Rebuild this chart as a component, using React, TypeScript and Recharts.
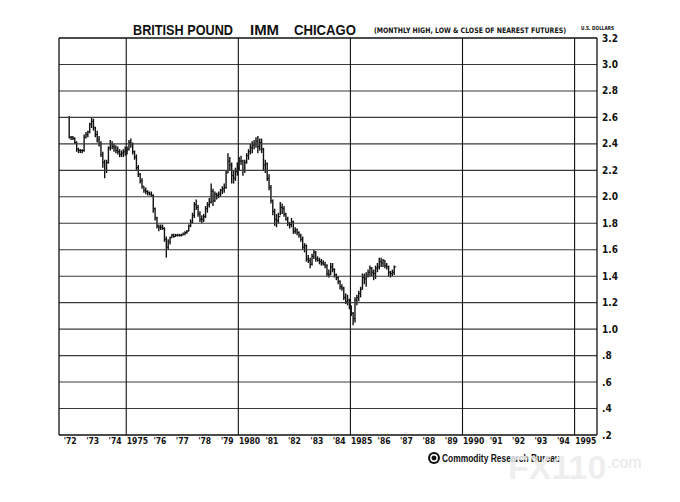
import { ComposedChart, Bar, XAxis, YAxis, ReferenceLine } from 'recharts';

// monthly bars start June 1972 (month index 5)
const FIRST_YEAR = 1972;
const FIRST_MONTH = 5;

const highs = [
  2.61, 2.46, 2.46, 2.45, 2.42, 2.37, 2.36, // 1972
  2.36, 2.47, 2.49, 2.50, 2.56, 2.60, 2.59, 2.53, 2.50, 2.46, 2.42, 2.34, // 1973
  2.28, 2.28, 2.38, 2.43, 2.42, 2.40, 2.39, 2.38, 2.36, 2.35, 2.36, 2.38, // 1974
  2.38, 2.43, 2.44, 2.41, 2.35, 2.32, 2.24, 2.18, 2.14, 2.08, 2.07, 2.05, // 1975
  2.04, 2.04, 2.02, 1.92, 1.85, 1.79, 1.79, 1.79, 1.77, 1.70, 1.68, 1.70, // 1976
  1.72, 1.72, 1.72, 1.72, 1.72, 1.72, 1.73, 1.74, 1.75, 1.79, 1.83, 1.88, // 1977
  1.96, 1.98, 1.94, 1.89, 1.86, 1.87, 1.93, 1.96, 1.99, 2.10, 2.06, 2.04, // 1978
  2.03, 2.04, 2.06, 2.08, 2.10, 2.20, 2.33, 2.30, 2.26, 2.20, 2.22, 2.26, // 1979
  2.30, 2.31, 2.28, 2.28, 2.33, 2.36, 2.40, 2.42, 2.43, 2.45, 2.46, 2.44, // 1980
  2.44, 2.37, 2.28, 2.26, 2.17, 2.09, 1.98, 1.91, 1.87, 1.88, 1.96, 1.95, // 1981
  1.93, 1.88, 1.85, 1.81, 1.84, 1.82, 1.77, 1.76, 1.74, 1.72, 1.70, 1.65, // 1982
  1.64, 1.56, 1.54, 1.57, 1.60, 1.59, 1.55, 1.54, 1.53, 1.52, 1.51, 1.49, // 1983
  1.45, 1.50, 1.50, 1.46, 1.42, 1.40, 1.37, 1.34, 1.32, 1.27, 1.26, 1.23, // 1984
  1.18, 1.13, 1.24, 1.26, 1.29, 1.32, 1.42, 1.42, 1.43, 1.45, 1.48, 1.47, // 1985
  1.45, 1.48, 1.50, 1.54, 1.54, 1.53, 1.52, 1.50, 1.48, 1.44, 1.45, 1.48, // 1986
];

const lows = [
  2.44, 2.43, 2.43, 2.40, 2.34, 2.33, 2.33, // 1972
  2.33, 2.34, 2.44, 2.45, 2.48, 2.52, 2.50, 2.45, 2.41, 2.38, 2.30, 2.22, // 1973
  2.14, 2.18, 2.25, 2.35, 2.36, 2.34, 2.33, 2.32, 2.30, 2.30, 2.30, 2.31, // 1974
  2.32, 2.35, 2.37, 2.32, 2.28, 2.20, 2.15, 2.10, 2.06, 2.03, 2.02, 2.01, // 1975
  2.01, 2.00, 1.88, 1.82, 1.76, 1.74, 1.75, 1.75, 1.66, 1.54, 1.60, 1.64, // 1976
  1.69, 1.69, 1.70, 1.70, 1.70, 1.70, 1.71, 1.71, 1.72, 1.74, 1.77, 1.80, // 1977
  1.84, 1.90, 1.85, 1.81, 1.80, 1.81, 1.84, 1.88, 1.92, 1.95, 1.93, 1.96, // 1978
  1.98, 1.99, 2.00, 2.02, 2.03, 2.06, 2.18, 2.20, 2.10, 2.10, 2.12, 2.16, // 1979
  2.20, 2.24, 2.16, 2.18, 2.25, 2.28, 2.32, 2.33, 2.36, 2.37, 2.33, 2.35, // 1980
  2.33, 2.20, 2.18, 2.12, 2.05, 1.95, 1.86, 1.78, 1.77, 1.80, 1.86, 1.87, // 1981
  1.85, 1.82, 1.78, 1.76, 1.77, 1.72, 1.72, 1.71, 1.69, 1.66, 1.60, 1.58, // 1982
  1.51, 1.50, 1.46, 1.48, 1.53, 1.51, 1.51, 1.49, 1.48, 1.48, 1.46, 1.40, // 1983
  1.39, 1.41, 1.43, 1.39, 1.37, 1.34, 1.30, 1.29, 1.22, 1.19, 1.18, 1.15, // 1984
  1.10, 1.03, 1.05, 1.18, 1.21, 1.24, 1.30, 1.34, 1.32, 1.39, 1.40, 1.40, // 1985
  1.37, 1.38, 1.43, 1.45, 1.47, 1.47, 1.46, 1.45, 1.40, 1.39, 1.40, 1.41, // 1986
];

const closes = [
  2.45, 2.45, 2.44, 2.41, 2.36, 2.35, 2.35, // 1972
  2.35, 2.45, 2.47, 2.49, 2.55, 2.57, 2.52, 2.47, 2.43, 2.40, 2.32, 2.26, // 1973
  2.20, 2.26, 2.37, 2.40, 2.38, 2.37, 2.35, 2.34, 2.32, 2.33, 2.34, 2.35, // 1974
  2.36, 2.41, 2.40, 2.34, 2.30, 2.22, 2.17, 2.12, 2.08, 2.05, 2.04, 2.03, // 1975
  2.02, 2.01, 1.91, 1.84, 1.78, 1.77, 1.77, 1.76, 1.68, 1.62, 1.66, 1.69, // 1976
  1.71, 1.70, 1.71, 1.71, 1.71, 1.71, 1.72, 1.73, 1.74, 1.78, 1.81, 1.86, // 1977
  1.94, 1.92, 1.87, 1.83, 1.83, 1.85, 1.91, 1.94, 1.96, 2.04, 1.97, 2.02, // 1978
  2.01, 2.02, 2.05, 2.06, 2.07, 2.18, 2.27, 2.24, 2.16, 2.14, 2.19, 2.21, // 1979
  2.27, 2.27, 2.20, 2.26, 2.31, 2.34, 2.37, 2.39, 2.40, 2.42, 2.38, 2.41, // 1980
  2.36, 2.24, 2.25, 2.14, 2.07, 1.97, 1.89, 1.83, 1.82, 1.85, 1.92, 1.91, // 1981
  1.87, 1.83, 1.80, 1.79, 1.81, 1.74, 1.75, 1.73, 1.71, 1.68, 1.62, 1.63, // 1982
  1.53, 1.52, 1.49, 1.55, 1.58, 1.53, 1.52, 1.51, 1.50, 1.49, 1.48, 1.42, // 1983
  1.41, 1.47, 1.45, 1.41, 1.39, 1.36, 1.32, 1.31, 1.24, 1.21, 1.22, 1.16, // 1984
  1.12, 1.08, 1.22, 1.24, 1.27, 1.30, 1.39, 1.38, 1.40, 1.43, 1.46, 1.43, // 1985
  1.42, 1.46, 1.47, 1.51, 1.50, 1.52, 1.48, 1.47, 1.43, 1.42, 1.43, 1.47, // 1986
];

const yearLabels = [
  "'72", "'73", "'74", '1975', "'76", "'77", "'78", "'79", '1980', "'81", "'82", "'83",
  "'84", '1985', "'86", "'87", "'88", "'89", '1990', "'91", "'92", "'93", "'94", '1995',
];
const yearTicks = [
  1972, 1973, 1974, 1975, 1976, 1977, 1978, 1979, 1980, 1981, 1982, 1983, 1984,
  1985, 1986, 1987, 1988, 1989, 1990, 1991, 1992, 1993, 1994, 1995, 1996,
];
const fiveYearLines = [1975, 1980, 1985, 1990, 1995];
const priceTicks = [0.2, 0.4, 0.6, 0.8, 1.0, 1.2, 1.4, 1.6, 1.8, 2.0, 2.2, 2.4, 2.6, 2.8, 3.0, 3.2];
const minorTicks = [0.3, 0.5, 0.7, 0.9, 1.1, 1.3, 1.5, 1.7, 1.9, 2.1, 2.3, 2.5, 2.7, 2.9, 3.1];

const data = highs.map((h, i) => ({
  t: FIRST_YEAR + (FIRST_MONTH + i + 0.5) / 12,
  range: [lows[i], h],
  close: closes[i],
}));

const labelTicks = yearLabels.map((_, i) => FIRST_YEAR + i + 0.5);

const condensed = "'Liberation Sans Narrow', 'DejaVu Sans Condensed', 'Liberation Sans', sans-serif";
const sans = "'Liberation Sans', Arial, sans-serif";

const HlcBar = (props: any) => {
  const { x, y, width, height, payload } = props;
  if (x == null || y == null) return null;
  const top = Math.min(y, y + height);
  const bottom = Math.max(y, y + height);
  const [lo, hi] = payload.range;
  const cx = x + width / 2;
  const cy = hi > lo ? top + ((bottom - top) * (hi - payload.close)) / (hi - lo) : top;
  return (
    <g>
      <line x1={cx} x2={cx} y1={top} y2={Math.max(bottom, top + 1)} stroke="#111" strokeWidth={1.4} />
      <line x1={cx} x2={cx + 2} y1={cy} y2={cy} stroke="#111" strokeWidth={1} />
    </g>
  );
};

const fmtPrice = (v: number) => (v < 1 ? v.toFixed(1).slice(1) : v.toFixed(1));

export default function App() {
  return (
    <div style={{ position: 'absolute', left: 0, top: 0, width: 680, height: 502, background: '#fff' }}>
      <ComposedChart
        width={680}
        height={502}
        data={data}
        margin={{ top: 38, right: 43, bottom: 51, left: 59 }}
      >
        <XAxis
          xAxisId="main"
          type="number"
          dataKey="t"
          domain={[1972, 1996]}
          ticks={labelTicks}
          interval={0}
          tickFormatter={(v: number) => yearLabels[Math.floor(v) - FIRST_YEAR]}
          tickLine={false}
          axisLine={false}
          tickSize={0}
          tickMargin={3}
          height={16}
          tick={{ fontSize: 8.5, fontWeight: 700, fill: '#111', fontFamily: condensed }}
          allowDataOverflow
        />
        <XAxis
          xAxisId="bt"
          type="number"
          dataKey="t"
          domain={[1972, 1996]}
          ticks={yearTicks}
          interval={0}
          mirror
          tick={false}
          tickSize={5}
          stroke="#111"
          axisLine={{ stroke: '#111', strokeWidth: 1.3 }}
          allowDataOverflow
        />
        <XAxis
          xAxisId="top"
          orientation="top"
          type="number"
          dataKey="t"
          domain={[1972, 1996]}
          ticks={yearTicks}
          interval={0}
          mirror
          tick={false}
          tickSize={5}
          stroke="#111"
          axisLine={{ stroke: '#111', strokeWidth: 1.3 }}
          allowDataOverflow
        />
        <YAxis
          yAxisId="main"
          orientation="right"
          type="number"
          domain={[0.2, 3.2]}
          ticks={priceTicks}
          interval={0}
          tickFormatter={fmtPrice}
          tickLine={false}
          axisLine={false}
          tickSize={0}
          tickMargin={5}
          width={40}
          tick={{ fontSize: 10, fontWeight: 700, fill: '#111', fontFamily: condensed }}
          allowDataOverflow
        />
        <YAxis
          yAxisId="rt"
          orientation="right"
          type="number"
          domain={[0.2, 3.2]}
          ticks={minorTicks}
          interval={0}
          mirror
          tick={false}
          tickSize={4}
          stroke="#111"
          axisLine={{ stroke: '#111', strokeWidth: 1.3 }}
          allowDataOverflow
        />
        <YAxis
          yAxisId="left"
          orientation="left"
          type="number"
          domain={[0.2, 3.2]}
          ticks={minorTicks}
          interval={0}
          mirror
          tick={false}
          tickSize={4}
          stroke="#111"
          axisLine={{ stroke: '#111', strokeWidth: 1.3 }}
          allowDataOverflow
        />
        {priceTicks.slice(1, -1).map((v) => (
          <ReferenceLine key={'h' + v} xAxisId="main" yAxisId="main" y={v} stroke="#3a3a3a" strokeWidth={1.1} />
        ))}
        {fiveYearLines.map((v) => (
          <ReferenceLine key={'v' + v} xAxisId="main" yAxisId="main" x={v} stroke="#111" strokeWidth={1.1} />
        ))}
        <Bar
          xAxisId="main"
          yAxisId="main"
          dataKey="range"
          barSize={2}
          shape={HlcBar}
          isAnimationActive={false}
        />
      </ComposedChart>
      <svg width={680} height={502} style={{ position: 'absolute', left: 0, top: 0, pointerEvents: 'none' }}>
        <g fontFamily={sans} fontWeight={700} fill="#111" fontSize={14}>
          <text x={133} y={35} textLength={100} lengthAdjust="spacingAndGlyphs">BRITISH POUND</text>
          <text x={250} y={35} textLength={29} lengthAdjust="spacingAndGlyphs">IMM</text>
          <text x={294} y={35} textLength={62} lengthAdjust="spacingAndGlyphs">CHICAGO</text>
        </g>
        <g fontFamily={condensed} fontWeight={700} fill="#111">
          <text x={374} y={33} fontSize={7.5} textLength={192} lengthAdjust="spacingAndGlyphs">
            (MONTHLY HIGH, LOW &amp; CLOSE OF NEAREST FUTURES)
          </text>
          <text x={581} y={30} fontSize={5.5} textLength={33} lengthAdjust="spacingAndGlyphs">U.S. DOLLARS</text>
        </g>
        <circle cx={434} cy={458} r={6} fill="#111" />
        <circle cx={434} cy={458} r={3.2} fill="none" stroke="#fff" strokeWidth={1.4} />
        <text x={442} y={462} fontSize={11} fontWeight={700} fill="#111" fontFamily={sans} textLength={118} lengthAdjust="spacingAndGlyphs">
          Commodity Research Bureau
        </text>
        <text x={508} y={479} fontSize={34} fontWeight={700} fill="#ececec" fillOpacity={0.85} fontFamily={sans}>
          FX110
        </text>
        <text x={607} y={468} fontSize={16} fill="#e6e6e6" fontFamily={sans}>.com</text>
      </svg>
    </div>
  );
}
